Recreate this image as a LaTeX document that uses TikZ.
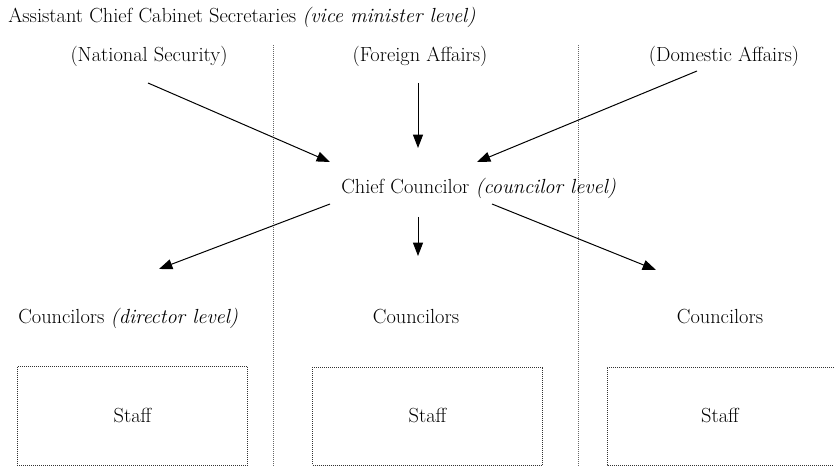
\documentclass[tikz,border=0pt]{standalone}
\usetikzlibrary{arrows.meta}
\begin{document}
\begin{tikzpicture}[x=0.75pt,y=-0.75pt,
  txt/.style={inner sep=0pt,font=\fontsize{15.3}{18}\selectfont},
  arr/.style={line width=0.75pt,-{Triangle[length=10pt,width=7.5pt]}},
  sep/.style={draw=black!60,line width=0.7pt,dash pattern=on 0.75pt off 0.75pt},
  staffbox/.style={draw=black!80,line width=0.7pt,dash pattern=on 0.75pt off 0.75pt,inner sep=0pt,font=\fontsize{15.3}{18}\selectfont}]
\useasboundingbox (0,0) rectangle (834,466);
% separators
\draw[sep] (273,45) coordinate (s1a) -- (273,466) coordinate (s1b);
\draw[sep] (578,45) coordinate (s2a) -- (578,466) coordinate (s2b);
% texts
\node[txt,anchor=base west] (title) at (8,23) {Assistant Chief Cabinet Secretaries \textit{(vice minister level)}};
\node[txt,anchor=base] (ns) at (149,62) {(National Security)};
\node[txt,anchor=base] (fa) at (420,62) {(Foreign Affairs)};
\node[txt,anchor=base] (da) at (724,62) {(Domestic Affairs)};
\node[txt,anchor=base west] (cc) at (341,194) {Chief Councilor \textit{(councilor level)}};
\node[txt,anchor=base west] (c1) at (18,323) {Councilors \textit{(director level)}};
\node[txt,anchor=base] (c2) at (416,323) {Councilors};
\node[txt,anchor=base] (c3) at (720,323) {Councilors};
% staff boxes
\node[staffbox,minimum width=230.5*0.75pt,minimum height=99*0.75pt] (st1) at (132.5,416) {Staff};
\node[staffbox,minimum width=230*0.75pt,minimum height=98*0.75pt] (st2) at (427.5,416) {Staff};
\draw[staffbox] (834,367) coordinate (st3a) -- (607,367) -- (607,465) -- (834,465) coordinate (st3b);
\node[txt] (st3) at (720,416) {Staff};
% arrow end points
\coordinate (a1s) at (148,83);  \coordinate (a1e) at (330,162);
\coordinate (a2s) at (418,83);  \coordinate (a2e) at (418,148);
\coordinate (a3s) at (697,71);  \coordinate (a3e) at (477,162);
\coordinate (b1s) at (330,204); \coordinate (b1e) at (159,269);
\coordinate (b2s) at (418,217); \coordinate (b2e) at (418,256);
\coordinate (b3s) at (492,204); \coordinate (b3e) at (656,270);
\draw[arr] (a1s) -- (a1e);
\draw[arr] (a2s) -- (a2e);
\draw[arr] (a3s) -- (a3e);
\draw[arr] (b1s) -- (b1e);
\draw[arr] (b2s) -- (b2e);
\draw[arr] (b3s) -- (b3e);
\end{tikzpicture}
\end{document}
